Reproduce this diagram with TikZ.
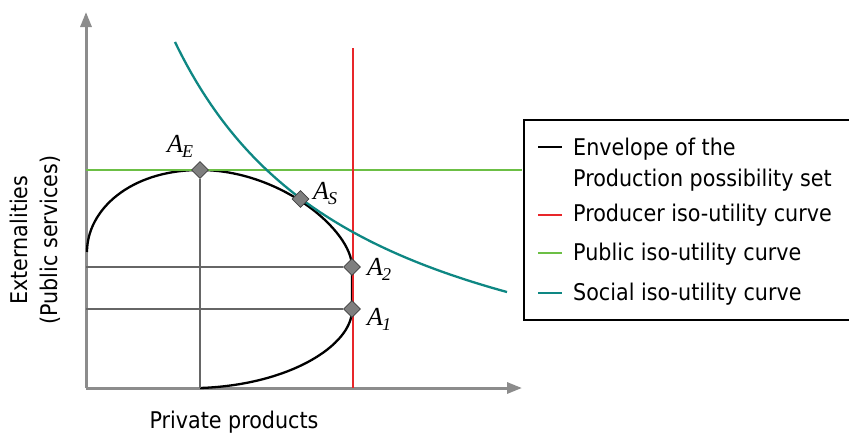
\documentclass[tikz,border=0pt]{standalone}
\usepackage{fontspec}
\newfontfamily\legfont{DejaVu Sans Condensed}
\newfontfamily\labfont{Liberation Serif}
\usetikzlibrary{arrows.meta,shapes.geometric}
\definecolor{axgray}{HTML}{8C8C8C}
\definecolor{guidegray}{HTML}{666666}
\definecolor{cred}{HTML}{E8262A}
\definecolor{cgreen}{HTML}{6CBF45}
\definecolor{cteal}{HTML}{0E8783}
\definecolor{ptfill}{HTML}{7F7F7F}
\definecolor{ptdraw}{HTML}{3F3F3F}
\newcommand\Alab[1]{{\labfont\fontsize{26}{30}\selectfont\itshape A\kern-1pt\raisebox{-5pt}{\fontsize{18}{20}\selectfont #1}}}
\tikzset{
  axis/.style={draw=axgray, line width=3pt, -{Triangle[length=15pt,width=11pt]}},
  guide/.style={draw=guidegray, line width=1.5pt},
  env/.style={draw=black, line width=2.3pt},
  pt/.style={diamond, draw=ptdraw, fill=ptfill, line width=0.8pt, minimum size=17pt, inner sep=0pt},
  alab/.style={anchor=base west, inner sep=0pt},
  leg/.style={anchor=base west, inner sep=0pt, font=\legfont\fontsize{23}{30}\selectfont},
  legline/.style={line width=2pt},
  axlab/.style={inner sep=0pt, font=\legfont\fontsize{23}{30}\selectfont}
}
\begin{document}
\begin{tikzpicture}[x=1pt,y=-1pt]
\useasboundingbox (0,0) rectangle (849,432);
\coordinate (O) at (86,388);
\coordinate (Ytop) at (86,12);
\coordinate (Xend) at (522,388);
\coordinate (Rtop) at (353,48);
\coordinate (Gl) at (86,170);
\coordinate (Gr) at (522,170);
% axes
\draw[axis] (O) -- (Ytop);
\draw[axis] (O) -- (Xend);
% envelope
\draw[env] (200,388) .. controls (290,385) and (352,345) .. (352,310) -- (352,267)
  .. controls (352,230) and (280,170) .. (200,170)
  .. controls (130,170) and (87,210) .. (87,252);
% public iso-utility (green)
\draw[cgreen, line width=2.5pt] (Gl) -- (Gr);
% producer iso-utility (red)
\draw[cred, line width=2.3pt] (Rtop) -- (Rtop |- O);
% social iso-utility (teal)
\draw[cteal, line width=2.3pt] plot[domain=175:507, samples=120, smooth] (\x,{435.1-746.92/((\x+15)/100)});
% points
\node[pt] (AE) at (200,170) {};
\node[pt] (AS) at (300.5,199) {};
\node[pt] (A2) at (352,267) {};
\node[pt] (A1) at (352,309) {};
% guide lines
\draw[guide] (AE) -- (AE |- O);
\draw[guide] (O |- A2) -- (A2);
\draw[guide] (O |- A1) -- (A1);
% point labels
\node[alab] (lAE) at (167,152) {\Alab{E}};
\node[alab] (lAS) at (313,199) {\Alab{S}};
\node[alab] (lA2) at (367,275) {\Alab{2}};
\node[alab] (lA1) at (367,325) {\Alab{1}};
% axis labels
\node[axlab, anchor=base] (xl) at (234,428) {Private products};
\node[axlab, rotate=90, align=center] (yl) at (35,240) {Externalities\\(Public services)};
% legend
\draw[black, line width=1.2pt] (849,120) -- (524,120) -- (524,320) -- (849,320);
\draw[legline, black] (538,147) -- (562,147);
\node[leg] (l1) at (573,155) {Envelope of the};
\node[leg] (l1b) at (573,186) {Production possibility set};
\draw[legline, cred] (538,215) -- (562,215);
\node[leg] (l2) at (573,221) {Producer iso-utility curve};
\draw[legline, cgreen] (538,253) -- (562,253);
\node[leg] (l3) at (573,260) {Public iso-utility curve};
\draw[legline, cteal] (538,293) -- (562,293);
\node[leg] (l4) at (573,300) {Social iso-utility curve};
\end{tikzpicture}
\end{document}
